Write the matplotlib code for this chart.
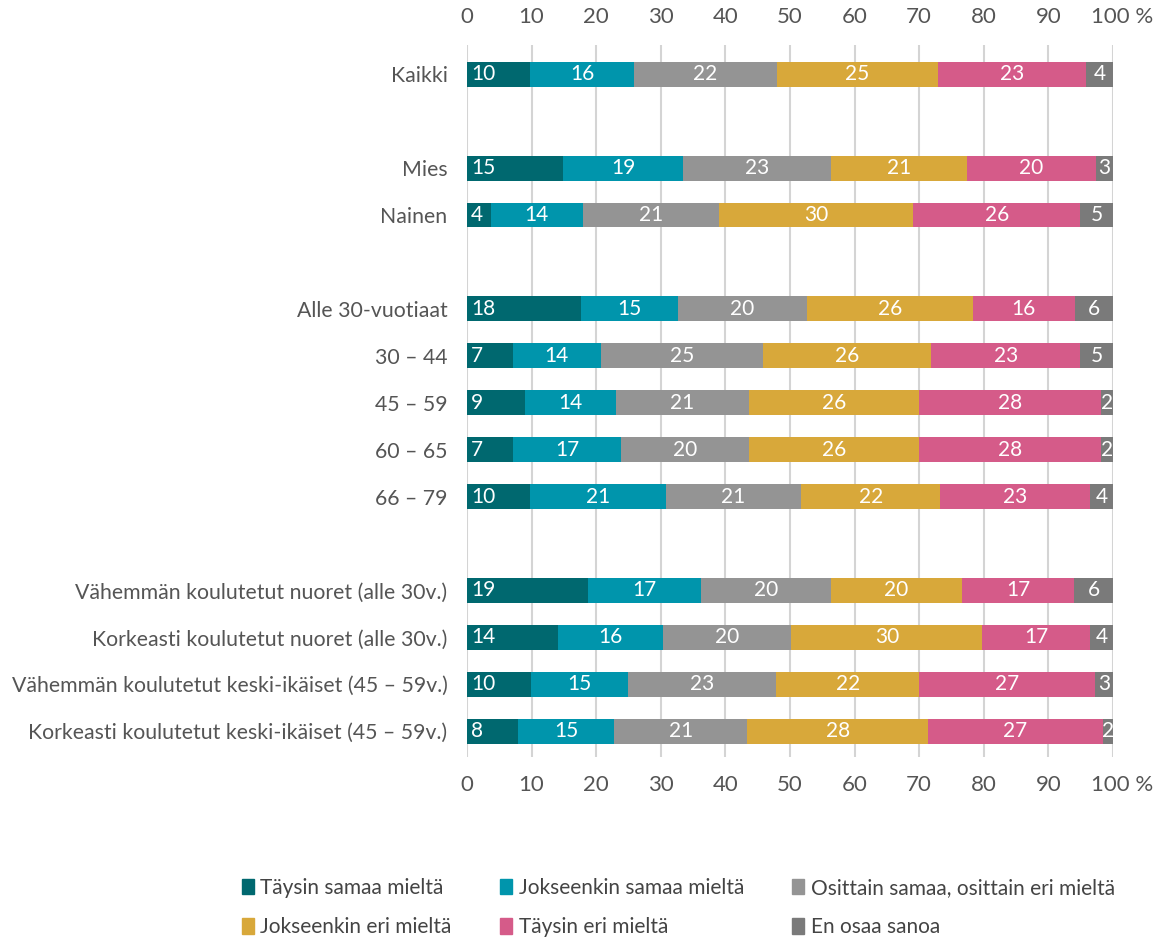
import matplotlib.pyplot as plt
from matplotlib.patches import Patch
import matplotlib.transforms as mtransforms
import numpy as np

plt.rcParams['font.family'] = ['Lato', 'DejaVu Sans']

# rows from top to bottom
categories = ["Kaikki", "Mies", "Nainen", "Alle 30-vuotiaat", "30 – 44", "45 – 59",
              "60 – 65", "66 – 79", "Vähemmän koulutetut nuoret (alle 30v.)",
              "Korkeasti koulutetut nuoret (alle 30v.)",
              "Vähemmän koulutetut keski-ikäiset (45 – 59v.)",
              "Korkeasti koulutetut keski-ikäiset (45 – 59v.)"]
# slot position of each row (gaps between groups)
slots = [0, 2, 3, 5, 6, 7, 8, 9, 11, 12, 13, 14]

series = ["Täysin samaa mieltä", "Jokseenkin samaa mieltä",
          "Osittain samaa, osittain eri mieltä", "Jokseenkin eri mieltä",
          "Täysin eri mieltä", "En osaa sanoa"]
colors = ["#00686f", "#0095ac", "#949494", "#d8a83a", "#d55b89", "#7a7a7a"]

taysin_samaa = [9.8, 14.9, 3.7, 17.7, 7.1, 9.0, 7.1, 9.8, 18.8, 14.1, 9.9, 7.9]
jokseenkin_samaa = [16.0, 18.6, 14.2, 14.9, 13.6, 14.0, 16.8, 21.0, 17.4, 16.3, 15.0, 14.9]
osittain = [22.2, 22.9, 21.1, 20.0, 25.2, 20.7, 19.8, 20.9, 20.2, 19.8, 23.0, 20.6]
jokseenkin_eri = [24.9, 21.0, 30.1, 25.7, 26.0, 26.3, 26.3, 21.6, 20.2, 29.6, 22.1, 28.0]
taysin_eri = [22.9, 19.9, 25.8, 15.8, 23.0, 28.1, 28.1, 23.1, 17.4, 16.6, 27.2, 27.0]
en_osaa = [4.2, 2.7, 5.1, 5.9, 5.1, 1.9, 1.9, 3.6, 6.1, 3.6, 2.8, 1.6]

data = np.array([taysin_samaa, jokseenkin_samaa, osittain,
                 jokseenkin_eri, taysin_eri, en_osaa])

fig = plt.figure(figsize=(11.59, 9.44), dpi=100)
ax = fig.add_axes([0.4029, 0.198, 0.5574, 0.7542])

left = np.zeros(len(categories))
for i, name in enumerate(series):
    vals = data[i]
    ax.barh(slots, vals, left=left, height=0.53, color=colors[i], label=name, zorder=2)
    for y, l, v in zip(slots, left, vals):
        if i == 0:
            ax.text(l + 0.6, y, f"{v:.0f}", ha='left', va='center', color='white',
                    fontsize=15, zorder=3)
        else:
            ax.text(l + v / 2, y, f"{v:.0f}", ha='center', va='center', color='white',
                    fontsize=15, zorder=3)
    left += vals

ax.set_xlim(0, 100)
ax.set_ylim(14.55, -0.62)
xt = np.arange(0, 101, 10)
ax.set_xticks(xt)
ax.set_xticklabels([str(v) for v in xt[:-1]] + ["100 %"])
ax.grid(axis='x', color='#d4d4d4', lw=1.5, zorder=0)
ax.set_axisbelow(True)
for s in ax.spines.values():
    s.set_visible(False)
ax.tick_params(axis='x', top=True, labeltop=True, bottom=True, labelbottom=True,
               length=0, pad=13, labelsize=16, labelcolor='#555555')
ax.tick_params(axis='y', length=0, pad=14, labelsize=15.3, labelcolor='#555555')
ax.set_yticks(slots)
ax.set_yticklabels(categories)

# keep "100" centred on its gridline, "%" trailing
shift = mtransforms.ScaledTranslation(9 / 100, 0, fig.dpi_scale_trans)
ticks = ax.xaxis.get_major_ticks()
for lab in (ticks[-1].label1, ticks[-1].label2):
    lab.set_transform(lab.get_transform() + shift)

handles = [Patch(color=c) for c in colors]
order = [0, 3, 1, 4, 2, 5]
leg = fig.legend([handles[k] for k in order], [series[k] for k in order],
                 loc='upper left', bbox_to_anchor=(223 / 1159, 1 - 859 / 944),
                 ncol=3, frameon=False, fontsize=15, handlelength=0.6,
                 handleheight=0.8, handletextpad=0.3, columnspacing=2.3,
                 labelspacing=0.92)
for t in leg.get_texts():
    t.set_color('#444444')

fig.savefig("out.png", dpi=100)
